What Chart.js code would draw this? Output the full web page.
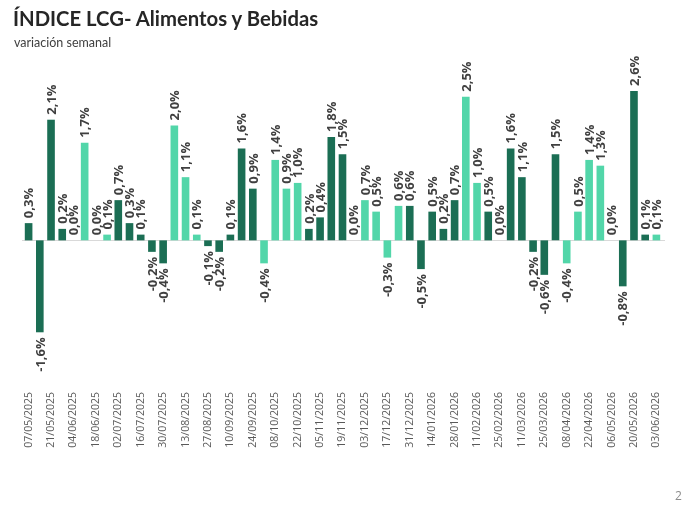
<!doctype html>
<html>
<head>
    <title>Indice LCG - Alimentos y Bebidas</title>
    <script src="https://cdn.jsdelivr.net/npm/chart.js@4"></script>
    <style>
    body{
        margin: 0;
        background: #ffffff;
        font-family: "Open Sans", Arial, sans-serif;
    }
    #title{
        position: absolute; left: 13px; top: 6px;
        font-family: Lato, "Open Sans", sans-serif;
        font-weight: bold; font-size: 20.3px; color: #262626;
    }
    #subtitle{
        position: absolute; left: 14px; top: 35px;
        font-family: Lato, "Open Sans", sans-serif;
        font-size: 12.5px; color: #404040;
    }
    #page{
        position: absolute; left: 675px; top: 487px;
        font-size: 12px; color: #8c8c8c;
    }
    #holder{
        position: absolute; left: 0; top: 0; width: 691px; height: 509px;
    }
    </style>
</head>
<body>
    <div id="holder"><canvas id="chart-area"></canvas></div>
    <div id="title">ÍNDICE LCG- Alimentos y Bebidas</div>
    <div id="subtitle">variación semanal</div>
    <div id="page">2</div>
    <script>
    // semanas (cada miercoles)
    var semanas = ['07/05/2025','14/05/2025','21/05/2025','28/05/2025','04/06/2025','11/06/2025',
        '18/06/2025','25/06/2025','02/07/2025','09/07/2025','16/07/2025','23/07/2025','30/07/2025',
        '06/08/2025','13/08/2025','20/08/2025','27/08/2025','03/09/2025','10/09/2025','17/09/2025',
        '24/09/2025','01/10/2025','08/10/2025','15/10/2025','22/10/2025','29/10/2025','05/11/2025',
        '12/11/2025','19/11/2025','26/11/2025','03/12/2025','10/12/2025','17/12/2025','24/12/2025',
        '31/12/2025','07/01/2026','14/01/2026','21/01/2026','28/01/2026','04/02/2026','11/02/2026',
        '18/02/2026','25/02/2026','04/03/2026','11/03/2026','18/03/2026','25/03/2026','01/04/2026',
        '08/04/2026','15/04/2026','22/04/2026','29/04/2026','06/05/2026','13/05/2026','20/05/2026',
        '27/05/2026','03/06/2026'];
    var variacion = [0.3,-1.6,2.1,0.2,0.0,1.7,0.0,0.1,0.7,0.3,0.1,-0.2,-0.4,2.0,1.1,0.1,-0.1,-0.2,
        0.1,1.6,0.9,-0.4,1.4,0.9,1.0,0.2,0.4,1.8,1.5,0.0,0.7,0.5,-0.3,0.6,0.6,-0.5,0.5,0.2,0.7,
        2.5,1.0,0.5,0.0,1.6,1.1,-0.2,-0.6,1.5,-0.4,0.5,1.4,1.3,0.0,-0.8,2.6,0.1,0.1];
    // 'o' = verde oscuro, 'c' = verde claro
    var tono = ['o','o','o','o','c','c','c','c','o','o','o','o','o','c','c','c','o','o',
        'o','o','o','c','c','c','c','o','o','o','o','c','c','c','c','c','o','o','o','o','o',
        'c','c','o','o','o','o','o','o','o','c','c','c','c','c','o','o','o','c'];

    var oscuro = '#1b6e54';
    var claro = '#52d6a9';
    var colores = tono.map(function (t){ return t === 'o' ? oscuro : claro; });

    function fmt(v){
        return v.toFixed(1).replace('.', ',') + '%';
    }

    var etiquetas = {
        id: 'etiquetas',
        beforeDatasetsDraw: function (chart){
            var c = chart.ctx, a = chart.chartArea, y0 = chart.scales.y.getPixelForValue(0);
            c.save();
            c.strokeStyle = '#d9d9d9';
            c.lineWidth = 1;
            c.beginPath();
            c.moveTo(a.left - 1, Math.round(y0) + 0.5);
            c.lineTo(a.right + 3, Math.round(y0) + 0.5);
            c.stroke();
            c.restore();
        },
        afterDatasetsDraw: function (chart){
            var c = chart.ctx;
            var meta = chart.getDatasetMeta(0);
            c.save();
            c.font = 'bold 13px "Open Sans"';
            c.fillStyle = '#404040';
            c.textBaseline = 'middle';
            meta.data.forEach(function (bar, i){
                var v = variacion[i];
                c.save();
                if (v >= 0){
                    c.translate(bar.x, Math.min(bar.y, bar.base) - 5);
                    c.rotate(-Math.PI / 2);
                    c.textAlign = 'left';
                } else {
                    c.translate(bar.x, bar.y + 5);
                    c.rotate(-Math.PI / 2);
                    c.textAlign = 'right';
                }
                c.fillText(fmt(v), 0, 1);
                c.restore();
            });
            c.restore();
        }
    };

    var config = {
        type: 'bar',
        data: {
            labels: semanas,
            datasets: [{
                data: variacion,
                backgroundColor: colores,
                barPercentage: 0.68,
                categoryPercentage: 1.0
            }]
        },
        options: {
            responsive: true,
            maintainAspectRatio: false,
            animation: false,
            layout: { padding: { left: 23, right: 29, top: 68, bottom: 0 } },
            plugins: {
                legend: { display: false },
                tooltip: { enabled: false }
            },
            scales: {
                x: {
                    grid: { display: false },
                    border: { display: false },
                    ticks: {
                        autoSkip: false,
                        maxRotation: 90,
                        minRotation: 90,
                        padding: 0,
                        color: '#595959',
                        font: { family: 'Open Sans', size: 10.5 },
                        callback: function (val, idx){
                            return idx % 2 === 0 ? semanas[idx] : '';
                        }
                    },
                    afterFit: function (scale){ scale.height = 125; }
                },
                y: {
                    display: false,
                    min: -2.5,
                    max: 3.0
                }
            }
        },
        plugins: [etiquetas]
    };

    window.onload = function() {
        var ctx = document.getElementById("chart-area").getContext("2d");
        window.myBar = new Chart(ctx, config);
    };
    </script>
</body>
</html>
